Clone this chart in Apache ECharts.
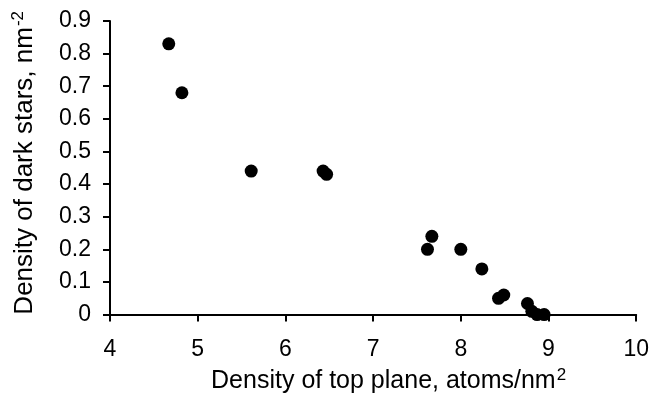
<!DOCTYPE html>
<html>
<head>
<meta charset="utf-8">
<script src="https://cdn.jsdelivr.net/npm/echarts@6/dist/echarts.min.js"></script>
<style>
  html, body { margin: 0; padding: 0; background: #fff; }
  #chart { width: 652px; height: 399px; }
</style>
</head>
<body>
<div id="chart"></div>
<script>
// data
const topPlaneDensity = [4.67, 4.82, 5.61, 6.43, 6.47, 7.62, 7.67, 8.0, 8.24, 8.43, 8.49, 8.76, 8.81, 8.87, 8.95];
const darkStarDensity = [0.83, 0.68, 0.44, 0.44, 0.43, 0.20, 0.24, 0.20, 0.14, 0.05, 0.06, 0.034, 0.01, 0.0, 0.0];
const xTicks = [4, 5, 6, 7, 8, 9, 10];
const yTicks = [0, 0.1, 0.2, 0.3, 0.4, 0.5, 0.6, 0.7, 0.8, 0.9];

const points = topPlaneDensity.map((x, i) => [x, darkStarDensity[i]]);

const font = 'Liberation Sans, Arial, sans-serif';

// superscript pieces for the axis names
const xRich = {
	sup: { fontSize: 17, fontFamily: font, color: '#000', verticalAlign: 'top', lineHeight: 30, padding: [0, 0, 0, 1] },
	base: { fontSize: 25, fontFamily: font, color: '#000', lineHeight: 30 },
};
const yRich = {
	sup: { fontSize: 17, fontFamily: font, color: '#000', verticalAlign: 'top', lineHeight: 30, padding: [0, 0, 0, 1] },
	base: { fontSize: 26, fontFamily: font, color: '#000', lineHeight: 30 },
};

const axisCommon = {
	axisLine: { show: true, onZero: false, lineStyle: { color: '#000', width: 2 } },
	axisTick: { show: true, inside: false, length: 7, lineStyle: { color: '#000', width: 2 } },
	splitLine: { show: false },
	nameLocation: 'middle',
};

const chartRef = { current: document.getElementById('chart') };
let chartInstance = echarts.getInstanceByDom(chartRef.current);
if (!chartInstance) {
	chartInstance = echarts.init(chartRef.current, null, { renderer: 'canvas' });
}

chartInstance.setOption({
	animation: false,
	backgroundColor: '#fff',
	grid: { left: 110, right: 13, top: 21, bottom: 81, containLabel: false },
	xAxis: Object.assign({}, axisCommon, {
		type: 'value',
		min: xTicks[0],
		max: xTicks[xTicks.length - 1],
		interval: 1,
		name: '{base|Density of top plane, atoms/nm}{sup|2}',
		nameGap: 49,
		nameTextStyle: { fontSize: 25, fontFamily: font, color: '#000', padding: [0, 0, 0, 31], rich: xRich },
		axisLabel: { color: '#000', fontSize: 23, fontFamily: font, margin: 24, showMaxLabel: true, showMinLabel: true },
	}),
	yAxis: Object.assign({}, axisCommon, {
		type: 'value',
		min: yTicks[0],
		max: yTicks[yTicks.length - 1],
		interval: 0.1,
		name: '{base|Density of dark stars, nm}{sup|-2}',
		nameGap: 70,
		nameTextStyle: { fontSize: 26, fontFamily: font, color: '#000', padding: [0, 0, 0, 10], rich: yRich },
		axisLabel: {
			color: '#000', fontSize: 23, fontFamily: font, margin: 19,
			formatter: (v) => (v === 0 ? '0' : v.toFixed(1)),
		},
	}),
	series: [{
		type: 'scatter',
		data: points,
		symbol: 'circle',
		symbolSize: 13,
		itemStyle: { color: '#000', opacity: 1 },
		clip: false,
	}],
});
</script>
</body>
</html>
